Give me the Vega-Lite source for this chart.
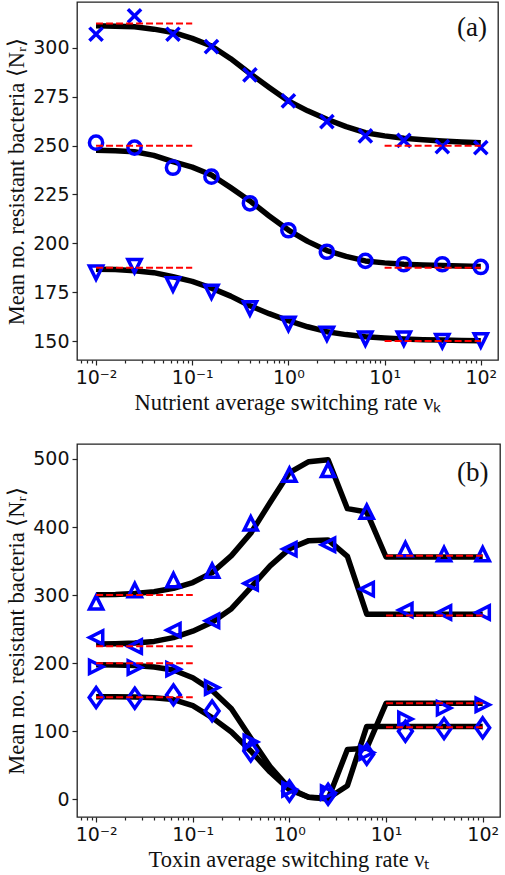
{
  "$schema": "https://vega.github.io/schema/vega-lite/v6.json",
  "padding": {"left": 5, "top": 1, "right": 0, "bottom": 0},
  "spacing": 28,
  "resolve": {"scale": {"shape": "independent"}},
  "config": {
    "view": {"stroke": "#222", "strokeWidth": 1.3},
    "axis": {
      "grid": false, "domain": false,
      "labelFont": "DejaVu Sans", "labelFontSize": 19, "labelColor": "#111",
      "tickColor": "#222", "tickWidth": 1.2, "tickSize": 5, "labelPadding": 3,
      "titleFont": "Liberation Serif", "titleFontSize": 22.5, "titleFontWeight": "normal", "titleColor": "#111",
      "labelFlush": false, "labelOverlap": false
    }
  },
  "datasets": {
    "curvesK": [
      {"nu": 0.01, "cross": 311.3, "circle": 247.6, "tri": 186.8},
      {"nu": 0.01585, "cross": 311.1, "circle": 247.4, "tri": 186.6},
      {"nu": 0.02512, "cross": 310.8, "circle": 246.9, "tri": 186.0},
      {"nu": 0.03981, "cross": 309.6, "circle": 245.0, "tri": 185.0},
      {"nu": 0.0631, "cross": 307.9, "circle": 241.8, "tri": 182.9},
      {"nu": 0.1, "cross": 304.9, "circle": 239.0, "tri": 180.5},
      {"nu": 0.1585, "cross": 301.0, "circle": 235.0, "tri": 177.1},
      {"nu": 0.2512, "cross": 294.5, "circle": 228.5, "tri": 173.0},
      {"nu": 0.3981, "cross": 286.9, "circle": 221.7, "tri": 168.1},
      {"nu": 0.631, "cross": 279.8, "circle": 214.0, "tri": 164.0},
      {"nu": 1, "cross": 272.9, "circle": 206.8, "tri": 160.4},
      {"nu": 1.585, "cross": 267.8, "circle": 201.0, "tri": 157.3},
      {"nu": 2.512, "cross": 263.5, "circle": 196.3, "tri": 154.8},
      {"nu": 3.981, "cross": 259.7, "circle": 193.3, "tri": 153.3},
      {"nu": 6.31, "cross": 256.6, "circle": 191.0, "tri": 152.2},
      {"nu": 10, "cross": 255.0, "circle": 190.0, "tri": 151.5},
      {"nu": 15.85, "cross": 253.8, "circle": 189.3, "tri": 151.0},
      {"nu": 25.12, "cross": 253.0, "circle": 188.9, "tri": 150.7},
      {"nu": 39.81, "cross": 252.4, "circle": 188.6, "tri": 150.5},
      {"nu": 63.1, "cross": 251.9, "circle": 188.4, "tri": 150.3},
      {"nu": 100, "cross": 251.5, "circle": 188.2, "tri": 150.2}
    ],
    "pointsK": [
      {"nu": 0.01, "cross": 307, "circle": 251.5, "tri": 185},
      {"nu": 0.02512, "cross": 316.4, "circle": 249, "tri": 188.4},
      {"nu": 0.0631, "cross": 307, "circle": 238.7, "tri": 179},
      {"nu": 0.1585, "cross": 300.7, "circle": 234.1, "tri": 175.2},
      {"nu": 0.3981, "cross": 286.2, "circle": 220.5, "tri": 166.7},
      {"nu": 1, "cross": 272.9, "circle": 206.7, "tri": 158.8},
      {"nu": 2.512, "cross": 262.3, "circle": 195.7, "tri": 153.7},
      {"nu": 6.31, "cross": 255, "circle": 191, "tri": 151.2},
      {"nu": 15.85, "cross": 252.7, "circle": 189.3, "tri": 151.2},
      {"nu": 39.81, "cross": 249.5, "circle": 189.3, "tri": 150},
      {"nu": 100, "cross": 249, "circle": 187.9, "tri": 150.3}
    ],
    "limitsK": [
      {"seg": "cross-slow", "nu": 0.01, "value": 312.5},
      {"seg": "cross-slow", "nu": 0.1, "value": 312.5},
      {"seg": "cross-fast", "nu": 10, "value": 250},
      {"seg": "cross-fast", "nu": 100, "value": 250},
      {"seg": "circle-slow", "nu": 0.01, "value": 250},
      {"seg": "circle-slow", "nu": 0.1, "value": 250},
      {"seg": "circle-fast", "nu": 10, "value": 187.5},
      {"seg": "circle-fast", "nu": 100, "value": 187.5},
      {"seg": "tri-slow", "nu": 0.01, "value": 187.5},
      {"seg": "tri-slow", "nu": 0.1, "value": 187.5},
      {"seg": "tri-fast", "nu": 10, "value": 150},
      {"seg": "tri-fast", "nu": 100, "value": 150}
    ],
    "curvesT": [
      {"nu": 0.01, "up": 300.5, "left": 228, "right": 197.5, "diamond": 150.5},
      {"nu": 0.01585, "up": 301, "left": 228.5, "right": 197.3, "diamond": 150.5},
      {"nu": 0.02512, "up": 302.5, "left": 229.5, "right": 196.5, "diamond": 150.3},
      {"nu": 0.03981, "up": 305, "left": 232, "right": 194.5, "diamond": 149.3},
      {"nu": 0.0631, "up": 310, "left": 237.5, "right": 190, "diamond": 146.5},
      {"nu": 0.1, "up": 318.5, "left": 247, "right": 178.5, "diamond": 137.5},
      {"nu": 0.1585, "up": 333, "left": 260, "right": 160, "diamond": 120},
      {"nu": 0.2512, "up": 358, "left": 280, "right": 133, "diamond": 99},
      {"nu": 0.3981, "up": 391, "left": 311, "right": 90, "diamond": 71},
      {"nu": 0.631, "up": 436, "left": 343, "right": 48, "diamond": 40},
      {"nu": 1, "up": 480, "left": 368, "right": 16, "diamond": 14},
      {"nu": 1.585, "up": 496, "left": 380, "right": 3, "diamond": 3},
      {"nu": 2.512, "up": 499, "left": 381, "right": 0.5, "diamond": 1.5},
      {"nu": 3.981, "up": 427, "left": 357, "right": 73, "diamond": 20},
      {"nu": 6.31, "up": 422, "left": 272, "right": 75, "diamond": 107},
      {"nu": 10, "up": 356, "left": 272, "right": 141, "diamond": 107},
      {"nu": 15.85, "up": 356, "left": 272, "right": 141, "diamond": 107},
      {"nu": 25.12, "up": 356, "left": 272, "right": 141, "diamond": 107},
      {"nu": 39.81, "up": 356, "left": 272, "right": 141, "diamond": 107},
      {"nu": 63.1, "up": 356, "left": 272, "right": 141, "diamond": 107},
      {"nu": 100, "up": 356, "left": 272, "right": 141, "diamond": 107}
    ],
    "pointsT": [
      {"nu": 0.01, "up": 289.2, "left": 237.7, "right": 194.6, "diamond": 149.5},
      {"nu": 0.02512, "up": 307.3, "left": 224.5, "right": 193.6, "diamond": 148.5},
      {"nu": 0.0631, "up": 322, "left": 248.5, "right": 191.2, "diamond": 153.4},
      {"nu": 0.1585, "up": 335.8, "left": 262.3, "right": 164.2, "diamond": 129.9},
      {"nu": 0.3981, "up": 405.4, "left": 317.2, "right": 84.3, "diamond": 71},
      {"nu": 1, "up": 476.9, "left": 367.6, "right": 14.7, "diamond": 12.3},
      {"nu": 2.512, "up": 483.8, "left": 374, "right": 9.8, "diamond": 7.4},
      {"nu": 6.31, "up": 422.5, "left": 308.8, "right": 68.6, "diamond": 66.2},
      {"nu": 15.85, "up": 367.6, "left": 278, "right": 118, "diamond": 100},
      {"nu": 39.81, "up": 360.3, "left": 274.5, "right": 134, "diamond": 104},
      {"nu": 100, "up": 360.3, "left": 274.5, "right": 139, "diamond": 105}
    ],
    "limitsT": [
      {"seg": "up-slow", "nu": 0.01, "value": 300},
      {"seg": "up-slow", "nu": 0.1, "value": 300},
      {"seg": "up-fast", "nu": 10, "value": 358},
      {"seg": "up-fast", "nu": 100, "value": 358},
      {"seg": "left-slow", "nu": 0.01, "value": 225},
      {"seg": "left-slow", "nu": 0.1, "value": 225},
      {"seg": "left-fast", "nu": 10, "value": 270},
      {"seg": "left-fast", "nu": 100, "value": 270},
      {"seg": "right-slow", "nu": 0.01, "value": 200},
      {"seg": "right-slow", "nu": 0.1, "value": 200},
      {"seg": "right-fast", "nu": 10, "value": 141},
      {"seg": "right-fast", "nu": 100, "value": 141},
      {"seg": "diamond-slow", "nu": 0.01, "value": 150},
      {"seg": "diamond-slow", "nu": 0.1, "value": 150},
      {"seg": "diamond-fast", "nu": 10, "value": 106},
      {"seg": "diamond-fast", "nu": 100, "value": 106}
    ]
  },
  "vconcat": [
    {
      "width": 421,
      "height": 358,
      "resolve": {"axis": {"x": "independent"}},
      "layer": [
        {
          "data": {"name": "curvesK"},
          "transform": [{"fold": ["cross", "circle", "tri"], "as": ["series", "value"]}],
          "mark": {"type": "line", "color": "black", "strokeWidth": 5.5, "strokeJoin": "round"},
          "encoding": {
            "x": {"field": "nu", "type": "quantitative",
                  "scale": {"type": "log", "domain": [0.00634, 151], "nice": false},
                  "axis": {"values": [0.01, 0.1, 1, 10, 100],
                           "labelExpr": "datum.value < 0.05 ? '10⁻²' : datum.value < 0.5 ? '10⁻¹' : datum.value < 5 ? '10⁰' : datum.value < 50 ? '10¹' : '10²'",
                           "title": "Nutrient average switching rate νₖ", "titlePadding": 4}},
            "y": {"field": "value", "type": "quantitative",
                  "scale": {"domain": [140.3, 323.5], "nice": false, "zero": false},
                  "axis": {"values": [150, 175, 200, 225, 250, 275, 300],
                           "title": "Mean no. resistant bacteria ⟨Nᵣ⟩", "titlePadding": 4}},
            "detail": {"field": "series"}
          }
        },
        {
          "data": {"name": "pointsK"},
          "transform": [{"fold": ["cross", "circle", "tri"], "as": ["series", "value"]}],
          "mark": {"type": "point", "filled": false, "color": "#0000ff", "strokeWidth": 3.5, "size": 175, "opacity": 1},
          "encoding": {
            "x": {"field": "nu", "type": "quantitative",
                  "scale": {"type": "log", "domain": [0.00634, 151], "nice": false}, "axis": null},
            "y": {"field": "value", "type": "quantitative",
                  "scale": {"domain": [140.3, 323.5], "nice": false, "zero": false}},
            "shape": {"field": "series", "type": "nominal", "legend": null,
                      "scale": {"domain": ["cross", "circle", "tri"],
                                "range": ["M-1,-1L1,1M-1,1L1,-1", "circle", "M-1,-1L1,-1L0,1Z"]}}
          }
        },
        {
          "data": {"name": "limitsK"},
          "mark": {"type": "line", "color": "#ff0000", "strokeWidth": 2, "strokeDash": [7, 3]},
          "encoding": {
            "x": {"field": "nu", "type": "quantitative",
                  "scale": {"type": "log", "domain": [0.00634, 151], "nice": false},
                  "axis": {"values": [0.007, 0.008, 0.009, 0.02, 0.03, 0.04, 0.05, 0.06, 0.07, 0.08, 0.09, 0.2, 0.3, 0.4, 0.5, 0.6, 0.7, 0.8, 0.9, 2, 3, 4, 5, 6, 7, 8, 9, 20, 30, 40, 50, 60, 70, 80, 90],
                           "labels": false, "tickSize": 3, "title": null, "orient": "bottom"}},
            "y": {"field": "value", "type": "quantitative",
                  "scale": {"domain": [140.3, 323.5], "nice": false, "zero": false}},
            "detail": {"field": "seg"}
          }
        },
        {
          "data": {"values": [{"nu": 81, "value": 310, "tag": "(a)"}]},
          "mark": {"type": "text", "font": "Liberation Serif", "fontSize": 27, "align": "center", "baseline": "middle", "color": "#111"},
          "encoding": {
            "x": {"field": "nu", "type": "quantitative",
                  "scale": {"type": "log", "domain": [0.00634, 151], "nice": false}, "axis": null},
            "y": {"field": "value", "type": "quantitative",
                  "scale": {"domain": [140.3, 323.5], "nice": false, "zero": false}},
            "text": {"field": "tag"}
          }
        }
      ]
    },
    {
      "width": 423,
      "height": 373,
      "resolve": {"axis": {"x": "independent"}},
      "layer": [
        {
          "data": {"name": "curvesT"},
          "transform": [{"fold": ["up", "left", "right", "diamond"], "as": ["series", "value"]}],
          "mark": {"type": "line", "color": "black", "strokeWidth": 5.5, "strokeJoin": "round"},
          "encoding": {
            "x": {"field": "nu", "type": "quantitative",
                  "scale": {"type": "log", "domain": [0.00634, 151], "nice": false},
                  "axis": {"values": [0.01, 0.1, 1, 10, 100],
                           "labelExpr": "datum.value < 0.05 ? '10⁻²' : datum.value < 0.5 ? '10⁻¹' : datum.value < 5 ? '10⁰' : datum.value < 50 ? '10¹' : '10²'",
                           "title": "Toxin average switching rate νₜ", "titlePadding": 4}},
            "y": {"field": "value", "type": "quantitative",
                  "scale": {"domain": [-26, 522], "nice": false, "zero": false},
                  "axis": {"values": [0, 100, 200, 300, 400, 500],
                           "title": "Mean no. resistant bacteria ⟨Nᵣ⟩", "titlePadding": 4}},
            "detail": {"field": "series"}
          }
        },
        {
          "data": {"name": "pointsT"},
          "transform": [{"fold": ["up", "left", "right", "diamond"], "as": ["series", "value"]}],
          "mark": {"type": "point", "filled": false, "color": "#0000ff", "strokeWidth": 3.5, "size": 175, "opacity": 1},
          "encoding": {
            "x": {"field": "nu", "type": "quantitative",
                  "scale": {"type": "log", "domain": [0.00634, 151], "nice": false}, "axis": null},
            "y": {"field": "value", "type": "quantitative",
                  "scale": {"domain": [-26, 522], "nice": false, "zero": false}},
            "shape": {"field": "series", "type": "nominal", "legend": null,
                      "scale": {"domain": ["up", "left", "right", "diamond"],
                                "range": ["M0,-1L1,1L-1,1Z", "M-1,0L1,-1L1,1Z", "M1,0L-1,-1L-1,1Z", "M0,-1.5L1.05,0L0,1.5L-1.05,0Z"]}}
          }
        },
        {
          "data": {"name": "limitsT"},
          "mark": {"type": "line", "color": "#ff0000", "strokeWidth": 2, "strokeDash": [7, 3]},
          "encoding": {
            "x": {"field": "nu", "type": "quantitative",
                  "scale": {"type": "log", "domain": [0.00634, 151], "nice": false},
                  "axis": {"values": [0.007, 0.008, 0.009, 0.02, 0.03, 0.04, 0.05, 0.06, 0.07, 0.08, 0.09, 0.2, 0.3, 0.4, 0.5, 0.6, 0.7, 0.8, 0.9, 2, 3, 4, 5, 6, 7, 8, 9, 20, 30, 40, 50, 60, 70, 80, 90],
                           "labels": false, "tickSize": 3, "title": null, "orient": "bottom"}},
            "y": {"field": "value", "type": "quantitative",
                  "scale": {"domain": [-26, 522], "nice": false, "zero": false}},
            "detail": {"field": "seg"}
          }
        },
        {
          "data": {"values": [{"nu": 79, "value": 479, "tag": "(b)"}]},
          "mark": {"type": "text", "font": "Liberation Serif", "fontSize": 27, "align": "center", "baseline": "middle", "color": "#111"},
          "encoding": {
            "x": {"field": "nu", "type": "quantitative",
                  "scale": {"type": "log", "domain": [0.00634, 151], "nice": false}, "axis": null},
            "y": {"field": "value", "type": "quantitative",
                  "scale": {"domain": [-26, 522], "nice": false, "zero": false}},
            "text": {"field": "tag"}
          }
        }
      ]
    }
  ]
}
